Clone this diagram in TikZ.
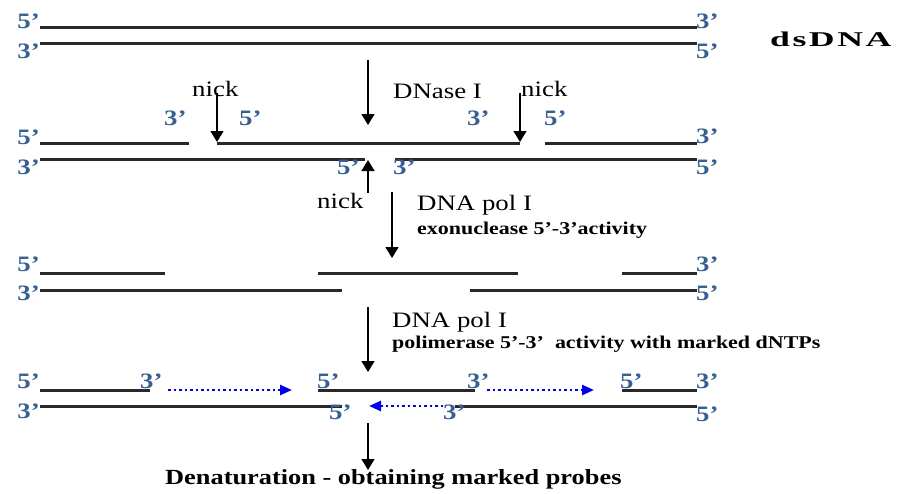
\documentclass[tikz,border=0pt]{standalone}
\usepackage{fontspec}
\setmainfont{Liberation Serif}[FakeStretch=1.22]
\newfontfamily\dsfont{Liberation Serif}[FakeStretch=1.7,LetterSpace=12]
\usetikzlibrary{arrows.meta}
\definecolor{lblue}{RGB}{55,95,145}
\definecolor{strandc}{RGB}{40,40,40}
\definecolor{newblue}{RGB}{0,0,235}
\tikzset{
  strand/.style={line width=3pt, draw=strandc},
  proc/.style={-{Triangle[width=13pt,length=11pt]}, line width=1.4pt},
  newdna/.style={draw=newblue, line width=2.5pt, dash pattern=on 2.5pt off 3pt,
    -{Triangle[width=10pt,length=12pt,fill=newblue]}},
  endlbl/.style={text=lblue, font=\bfseries\fontsize{22}{22}\selectfont, inner sep=0pt},
  reg/.style={font=\fontsize{22}{24}\selectfont, inner sep=0pt, anchor=base west},
  smallb/.style={font=\bfseries\fontsize{18}{20}\selectfont, inner sep=0pt, anchor=base west}
}
\begin{document}
\begin{tikzpicture}[x=1pt,y=-1pt]
\useasboundingbox (0,0) rectangle (904,493);

% ---------- Row 1: dsDNA ----------
\coordinate (r1ta) at (40,27);  \coordinate (r1tb) at (697,27);
\coordinate (r1ba) at (40,43);  \coordinate (r1bb) at (697,43);
\draw[strand] (r1ta) -- (r1tb);
\draw[strand] (r1ba) -- (r1bb);
\node[endlbl, anchor=south east] (r1l5) at (40,29) {5'};
\node[endlbl, anchor=north east] (r1l3) at (40,44) {3'};
\node[endlbl, anchor=south west] (r1r3) at (696,29) {3'};
\node[endlbl, anchor=north west] (r1r5) at (696,44) {5'};
\node[anchor=base west, inner sep=0pt, font=\dsfont\bfseries\fontsize{21}{21}\selectfont] (ds) at (770,46) {dsDNA};

% DNase I step
\coordinate (dnS) at (368,60); \coordinate (dnE) at (368,125);
\draw[proc] (dnS) -- (dnE);
\node[reg] (dnase) at (393,98) {DNase I};

% ---------- Row 2: nicks ----------
\coordinate (r2t1a) at (40,143);  \coordinate (r2t1b) at (189,143);
\coordinate (r2t2a) at (217,143); \coordinate (r2t2b) at (520,143);
\coordinate (r2t3a) at (545,143); \coordinate (r2t3b) at (697,143);
\coordinate (r2b1a) at (40,159);  \coordinate (r2b1b) at (365,159);
\coordinate (r2b2a) at (395,159); \coordinate (r2b2b) at (697,159);
\draw[strand] (r2t1a) -- (r2t1b);
\draw[strand] (r2t2a) -- (r2t2b);
\draw[strand] (r2t3a) -- (r2t3b);
\draw[strand] (r2b1a) -- (r2b1b);
\draw[strand] (r2b2a) -- (r2b2b);
\node[endlbl, anchor=south east] (r2l5) at (40,145) {5'};
\node[endlbl, anchor=north east] (r2l3) at (40,160) {3'};
\node[endlbl, anchor=south west] (r2r3) at (696,144) {3'};
\node[endlbl, anchor=north west] (r2r5) at (696,160) {5'};
\node[endlbl, anchor=south west] (n1a) at (164,126) {3'};
\node[endlbl, anchor=south west] (n1b) at (239,126) {5'};
\node[endlbl, anchor=south west] (n2a) at (467,126) {3'};
\node[endlbl, anchor=south west] (n2b) at (544,126) {5'};
\node[endlbl, anchor=north west] (n3a) at (337,160) {5'};
\node[endlbl, anchor=north west] (n3b) at (393,160) {3'};

\node[reg] (nickL) at (192,96) {nick};
\node[reg] (nickR) at (521,96) {nick};
\node[reg] (nickB) at (317,208) {nick};
\coordinate (nkLs) at (217,93);  \coordinate (nkLe) at (217,142);
\coordinate (nkRs) at (520,93);  \coordinate (nkRe) at (520,142);
\coordinate (nkBs) at (368,193); \coordinate (nkBe) at (368,160);
\draw[proc] (nkLs) -- (nkLe);
\draw[proc] (nkRs) -- (nkRe);
\draw[proc] (nkBs) -- (nkBe);

% DNA pol I exonuclease step
\coordinate (p1S) at (392,192); \coordinate (p1E) at (392,258);
\draw[proc] (p1S) -- (p1E);
\node[reg] (pol1) at (417,210) {DNA pol I};
\node[smallb] (exo) at (417,234) {exonuclease 5'-3'activity};

% ---------- Row 3: gaps ----------
\coordinate (r3t1a) at (40,273);  \coordinate (r3t1b) at (165,273);
\coordinate (r3t2a) at (318,273); \coordinate (r3t2b) at (518,273);
\coordinate (r3t3a) at (622,273); \coordinate (r3t3b) at (697,273);
\coordinate (r3b1a) at (40,290);  \coordinate (r3b1b) at (342,290);
\coordinate (r3b2a) at (470,290); \coordinate (r3b2b) at (697,290);
\draw[strand] (r3t1a) -- (r3t1b);
\draw[strand] (r3t2a) -- (r3t2b);
\draw[strand] (r3t3a) -- (r3t3b);
\draw[strand] (r3b1a) -- (r3b1b);
\draw[strand] (r3b2a) -- (r3b2b);
\node[endlbl, anchor=south east] (r3l5) at (40,272) {5'};
\node[endlbl, anchor=north east] (r3l3) at (40,286) {3'};
\node[endlbl, anchor=south west] (r3r3) at (696,272) {3'};
\node[endlbl, anchor=north west] (r3r5) at (696,286) {5'};

% DNA pol I polymerase step
\coordinate (p2S) at (368,307); \coordinate (p2E) at (368,372);
\draw[proc] (p2S) -- (p2E);
\node[reg] (pol2) at (392,327) {DNA pol I};
\node[smallb] (poly) at (392,348) {polimerase 5'-3'~ activity with marked dNTPs};

% ---------- Row 4: nick translation ----------
\coordinate (r4t1a) at (40,390);  \coordinate (r4t1b) at (150,390);
\coordinate (r4t2a) at (318,390); \coordinate (r4t2b) at (475,390);
\coordinate (r4t3a) at (622,390); \coordinate (r4t3b) at (697,390);
\coordinate (r4b1a) at (40,406);  \coordinate (r4b1b) at (342,406);
\coordinate (r4b2a) at (455,406); \coordinate (r4b2b) at (697,406);
\draw[strand] (r4t1a) -- (r4t1b);
\draw[strand] (r4t2a) -- (r4t2b);
\draw[strand] (r4t3a) -- (r4t3b);
\draw[strand] (r4b1a) -- (r4b1b);
\draw[strand] (r4b2a) -- (r4b2b);
\node[endlbl, anchor=south east] (r4l5) at (40,389) {5'};
\node[endlbl, anchor=north east] (r4l3) at (40,404) {3'};
\node[endlbl, anchor=south west] (r4r3) at (696,389) {3'};
\node[endlbl, anchor=north west] (r4r5) at (696,407) {5'};
\node[endlbl, anchor=south west] (m1) at (140,389) {3'};
\node[endlbl, anchor=south west] (m2) at (317,389) {5'};
\node[endlbl, anchor=south west] (m3) at (467,389) {3'};
\node[endlbl, anchor=south west] (m4) at (620,389) {5'};
\node[endlbl, anchor=north west] (m5) at (329,405) {5'};
\node[endlbl, anchor=north west] (m6) at (443,405) {3'};
\coordinate (bl1s) at (168,390); \coordinate (bl1e) at (292,390);
\coordinate (bl2s) at (487,390); \coordinate (bl2e) at (594,390);
\coordinate (bl3s) at (443,406); \coordinate (bl3e) at (369,406);
\draw[newdna] (bl1s) -- (bl1e);
\draw[newdna] (bl2s) -- (bl2e);
\draw[newdna] (bl3s) -- (bl3e);

% Denaturation
\coordinate (p3S) at (368,423); \coordinate (p3E) at (368,470);
\draw[proc] (p3S) -- (p3E);
\node[font=\bfseries\fontsize{21.6}{22}\selectfont, inner sep=0pt, anchor=base west] (den) at (165,484) {Denaturation - obtaining marked probes};
\end{tikzpicture}
\end{document}
